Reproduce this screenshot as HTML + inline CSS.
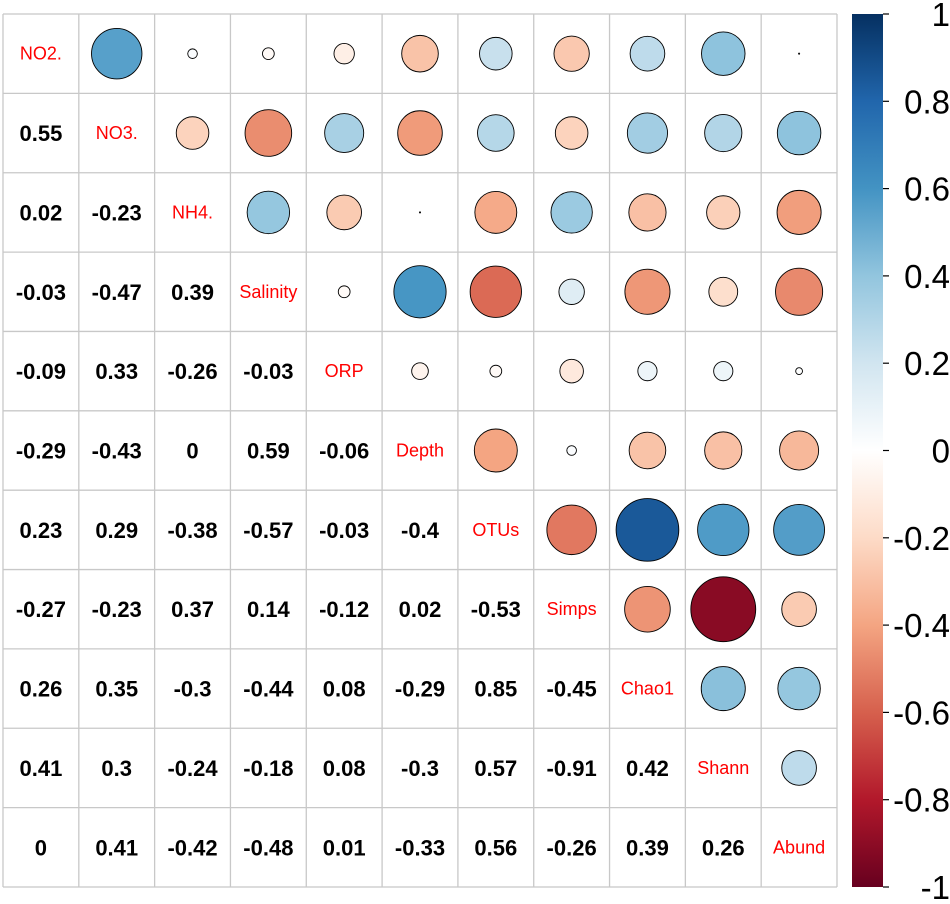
<!DOCTYPE html>
<html><head><meta charset="utf-8"><style>
body{margin:0;background:#fff;width:950px;height:904px;overflow:hidden}
svg{display:block}
</style></head><body>
<svg id="chart" width="950" height="904" xmlns="http://www.w3.org/2000/svg" font-family="Liberation Sans, Arial, sans-serif">
<defs><linearGradient id="cbg" x1="0" y1="1" x2="0" y2="0">
<stop offset="0" stop-color="#67001F"/><stop offset="0.1" stop-color="#B2182B"/><stop offset="0.2" stop-color="#D6604D"/><stop offset="0.3" stop-color="#F4A582"/><stop offset="0.4" stop-color="#FDDBC7"/><stop offset="0.5" stop-color="#FFFFFF"/><stop offset="0.6" stop-color="#D1E5F0"/><stop offset="0.7" stop-color="#92C5DE"/><stop offset="0.8" stop-color="#4393C3"/><stop offset="0.9" stop-color="#2166AC"/><stop offset="1" stop-color="#053061"/>
</linearGradient></defs>
<g id="grid"></g><g id="cells"></g><g id="cbar"></g>
</svg>
<script>
const variables = ["NO2.","NO3.","NH4.","Salinity","ORP","Depth","OTUs","Simps","Chao1","Shann","Abund"];
const lowerValues = [
 [],
 [0.55],
 [0.02,-0.23],
 [-0.03,-0.47,0.39],
 [-0.09,0.33,-0.26,-0.03],
 [-0.29,-0.43,0,0.59,-0.06],
 [0.23,0.29,-0.38,-0.57,-0.03,-0.4],
 [-0.27,-0.23,0.37,0.14,-0.12,0.02,-0.53],
 [0.26,0.35,-0.3,-0.44,0.08,-0.29,0.85,-0.45],
 [0.41,0.3,-0.24,-0.18,0.08,-0.3,0.57,-0.91,0.42],
 [0,0.41,-0.42,-0.48,0.01,-0.33,0.56,-0.26,0.39,0.26]
];
const colorbarTicks = [1,0.8,0.6,0.4,0.2,0,-0.2,-0.4,-0.6,-0.8,-1];
const palette = ["#67001F","#B2182B","#D6604D","#F4A582","#FDDBC7","#FFFFFF","#D1E5F0","#92C5DE","#4393C3","#2166AC","#053061"];

const NS="http://www.w3.org/2000/svg";
const X0=3,Y0=14,CW=(837-3)/11,CH=(887-14)/11,RMAX=34;
const cb={x:852,w:31,top:14,bot:887};
const xc=i=>X0+CW*(i+0.5), yc=j=>Y0+CH*(j+0.5);
const cbY=v=>cb.bot-(v+1)/2*(cb.bot-cb.top);
function hex(h){return [1,3,5].map(k=>parseInt(h.substr(k,2),16));}
function col(v){const t=(v+1)/2*10;const i=Math.min(9,Math.floor(t));const f=t-i;const a=hex(palette[i]),b=hex(palette[i+1]);
 return "rgb("+a.map((c,k)=>Math.round(c+(b[k]-c)*f)).join(",")+")";}
function mk(tag,attrs,parent){const e=document.createElementNS(NS,tag);for(const k in attrs)e.setAttribute(k,attrs[k]);parent.appendChild(e);return e;}
const n=variables.length;
const val=(i,j)=>i===j?1:(i>j?lowerValues[i][j]:lowerValues[j][i]);
const grid=document.getElementById('grid'),cells=document.getElementById('cells'),cbar=document.getElementById('cbar');
for(let k=0;k<=n;k++){
 const l1=mk('line',{x1:X0+CW*k,x2:X0+CW*k,y1:Y0,y2:Y0+CH*n,stroke:'#c8c8c8','stroke-width':1.3},grid);
 
 
 const l2=mk('line',{x1:X0,x2:X0+CW*n,y1:Y0+CH*k,y2:Y0+CH*k,stroke:'#c8c8c8','stroke-width':1.3},grid);
 
 
}
for(let r=0;r<n;r++)for(let c=0;c<n;c++){
 const v=val(r,c);
 if(r===c){
  const t=mk('text',{x:xc(c),y:yc(r)+6,'text-anchor':'middle','font-size':18,fill:'#ff0000'},cells);
  t.textContent=variables[r];
  
  
 }else if(r>c){
  const t=mk('text',{x:xc(c),y:yc(r)+8,'text-anchor':'middle','font-size':22,'font-weight':'bold',fill:'#000'},cells);
  t.textContent=String(v);
  
  
 }else{
  const ci=mk('circle',{cx:xc(c),cy:yc(r),r:Math.max(0.6,Math.sqrt(Math.abs(v))*RMAX),fill:col(v),stroke:'#000','stroke-width':0.9},cells);
  
  
 }
}
const bar=mk('rect',{x:cb.x,y:cb.top,width:cb.w,height:cb.bot-cb.top,fill:'url(#cbg)'},cbar);


colorbarTicks.forEach(v=>{
 const tk=mk('line',{x1:cb.x+cb.w,x2:cb.x+cb.w+6,y1:cbY(v),y2:cbY(v),stroke:'#000','stroke-width':1.2},cbar);
 
 
 const t=mk('text',{x:950,y:cbY(v)+12,'text-anchor':'end','font-size':33,fill:'#000'},cbar);
 t.textContent=String(v);
 
 
});
</script>
</body></html>
